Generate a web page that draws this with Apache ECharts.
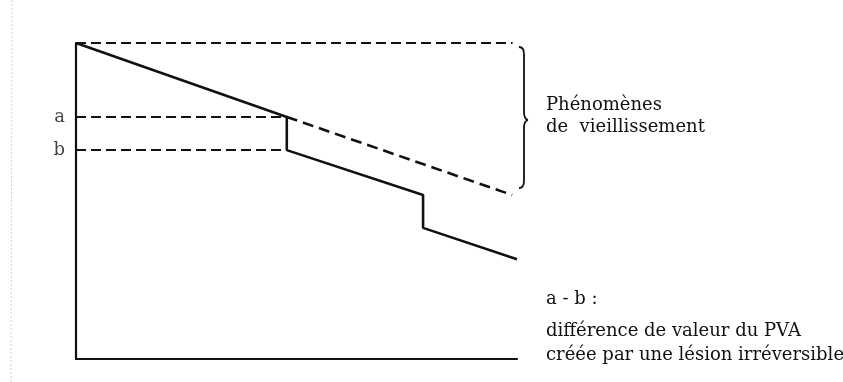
<!DOCTYPE html>
<html>
<head>
<meta charset="utf-8">
<script src="https://cdn.jsdelivr.net/npm/echarts@6/dist/echarts.min.js"></script>
<style>
  html, body { margin: 0; padding: 0; background: #fff; }
  #container { width: 843px; height: 382px; }
</style>
</head>
<body>
<div id="container"></div>
<script>
// valeur du PVA (0-100) en fonction du temps (0-100)
var lesionX = [0, 47.8, 47.8, 78.7, 78.7, 100];
var lesionY = [100, 76.6, 66.1, 51.9, 41.5, 31.6];
var agingX = [47.8, 98.9];
var agingY = [76.6, 51.9];
var topX = [0, 99];
var topY = [100, 100];
var levelNames = ['a', 'b'];
var levelValues = [76.6, 66.1];
var levelEnd = 47.8;

function pairs(xs, ys) {
    return xs.map(function (x, i) { return [x, ys[i]]; });
}

var font = 'DejaVu Serif';
var ink = '#111';

var myChart = echarts.init(document.getElementById('container'));

var braceStyle = { stroke: ink, lineWidth: 1.8, fill: null };
function curve(x1, y1, cx, cy, x2, y2) {
    return { type: 'bezierCurve', shape: { x1: x1, y1: y1, cpx1: cx, cpy1: cy, x2: x2, y2: y2 }, style: braceStyle };
}
function seg(x1, y1, x2, y2) {
    return { type: 'line', shape: { x1: x1, y1: y1, x2: x2, y2: y2 }, style: braceStyle };
}

var dashed = { color: ink, width: 2, type: [10, 5] };

var series = [
    {
        type: 'line', data: pairs(lesionX, lesionY), symbol: 'none',
        lineStyle: { color: ink, width: 2.6 }
    },
    {
        type: 'line', data: pairs(agingX, agingY), symbol: 'none',
        lineStyle: { color: ink, width: 2.6, type: [11, 6] }
    },
    {
        type: 'line', data: pairs(topX, topY), symbol: 'none',
        lineStyle: dashed
    }
];
levelValues.forEach(function (v) {
    series.push({
        type: 'line', symbol: 'none',
        data: [[0, v], [levelEnd, v]],
        lineStyle: dashed
    });
});
series.push({
    type: 'scatter', symbolSize: 0,
    data: levelValues.map(function (v, i) { return { name: levelNames[i], value: [0, v] }; }),
    label: {
        show: true, position: 'left', distance: 11, formatter: '{b}',
        fontFamily: font, fontSize: 18, color: ink
    }
});

var option = {
    animation: false,
    grid: { left: 76, right: 326, top: 43, bottom: 23 },
    xAxis: {
        type: 'value', min: 0, max: 100,
        axisLine: { lineStyle: { color: ink, width: 2.2 } },
        axisTick: { show: false }, axisLabel: { show: false }, splitLine: { show: false }
    },
    yAxis: {
        type: 'value', min: 0, max: 100,
        axisLine: { show: true, lineStyle: { color: ink, width: 2.2 } },
        axisTick: { show: false }, axisLabel: { show: false }, splitLine: { show: false }
    },
    series: series,
    graphic: [
        // accolade
        curve(519, 47, 524, 47, 524, 54),
        seg(524, 54, 524, 112),
        curve(524, 112, 524, 119, 528, 120),
        curve(528, 120, 524, 121, 524, 128),
        seg(524, 128, 524, 181),
        curve(524, 181, 524, 188, 519, 188),
        {
            type: 'text', left: 546, top: 94,
            style: { text: 'Phénomènes\nde  vieillissement', font: '18px "' + font + '"',
                     lineHeight: 22, fill: ink }
        },
        {
            type: 'text', left: 546, top: 290,
            style: { text: 'a - b :', font: '18px "' + font + '"', fill: ink }
        },
        {
            type: 'text', left: 546, top: 319,
            style: { text: 'différence de valeur du PVA\ncréée par une lésion irréversible',
                     font: '18px "' + font + '"', lineHeight: 24, fill: ink }
        },
        // trait de la marge scannée
        {
            type: 'line', shape: { x1: 12, y1: 0, x2: 11, y2: 382 },
            style: { stroke: '#d0d0d0', lineWidth: 1, lineDash: [2, 2] }
        }
    ]
};

myChart.setOption(option);
window.onresize = function () { myChart.resize(); };
</script>
</body>
</html>
